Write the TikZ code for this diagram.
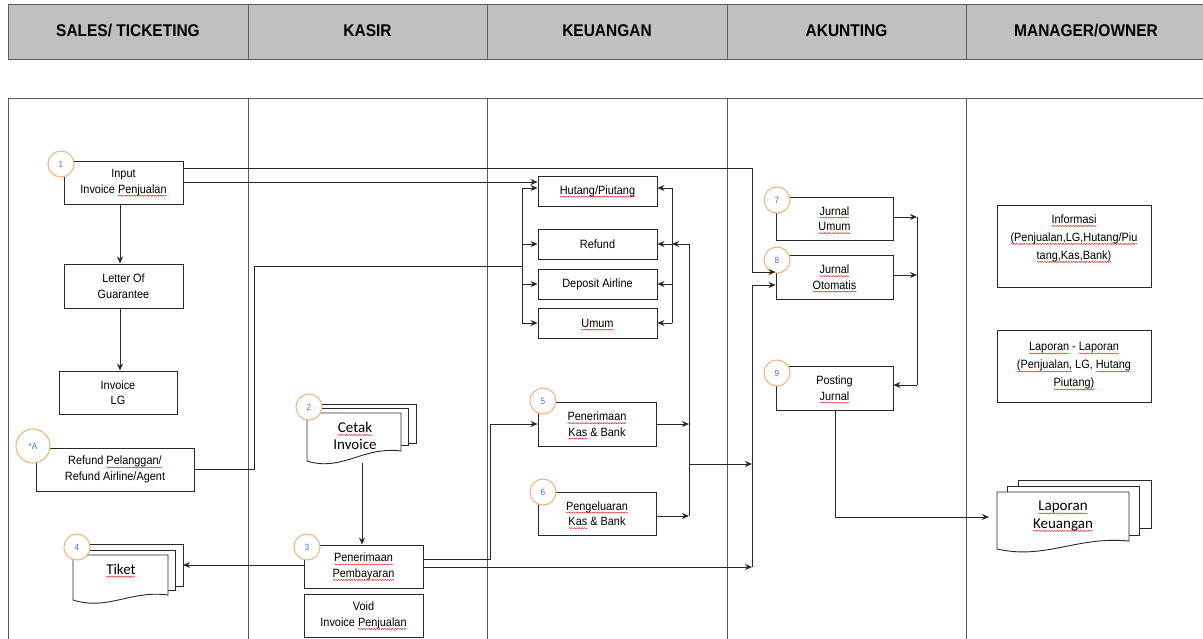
\documentclass[tikz,border=0pt]{standalone}
\usepackage{fontspec}
\setmainfont{Liberation Sans}[FakeStretch=0.91]
\newfontfamily\calfont{Carlito}
\usetikzlibrary{arrows.meta,calc,decorations.pathmorphing}
\newsavebox\sqbox
\newcommand\sq[1]{\leavevmode\sbox\sqbox{#1}\tikz[baseline=0pt]{\useasboundingbox (0pt,0pt);\draw[overlay,red,line width=0.4pt,decorate,decoration={snake,amplitude=0.55pt,segment length=2.6pt}] (0pt,-2.6pt) -- (\the\wd\sqbox,-2.6pt);}\usebox\sqbox}
\definecolor{linec}{RGB}{40,40,40}
\definecolor{orangec}{RGB}{247,180,120}
\definecolor{bluec}{RGB}{68,114,196}
\definecolor{headfill}{RGB}{192,192,192}
\definecolor{hdrline}{RGB}{90,90,90}
\tikzset{
  box/.style={draw=linec, line width=0.9pt, fill=white, align=center, inner sep=1pt,
    font=\fontsize{12}{15.5}\selectfont},
  bigbox/.style={box, font=\fontsize{12}{18}\selectfont},
  num/.style={circle, draw=orangec, line width=1.1pt, fill=white, minimum size=26pt,
    inner sep=0pt, text=bluec, font=\fontsize{9}{10}\selectfont},
  arr/.style={-{Stealth[length=7pt,width=6pt]}, line width=0.9pt, draw=linec},
  ln/.style={line width=0.9pt, draw=linec},
  hdr/.style={font=\fontsize{17}{20}\selectfont\bfseries},
  sheet/.style={draw=linec, line width=0.9pt, fill=white},
  doctext/.style={align=center, inner sep=0pt, font=\calfont\fontsize{15}{17.5}\selectfont},
  lane/.style={draw=hdrline, line width=1pt},
}
\begin{document}
\begin{tikzpicture}[x=1pt,y=-1pt]
\useasboundingbox (0,0) rectangle (1203,638);
% header
\fill[headfill] (8,4) rectangle (1210,59);
\draw[lane] (1210,4) -- (8,4) -- (8,59) -- (1210,59);
\foreach \x in {248,487,727,966} \draw[lane] (\x,4) -- (\x,59);
\node[hdr] (h1) at (128,31) {SALES/ TICKETING};
\node[hdr] (h2) at (367.5,31) {KASIR};
\node[hdr] (h3) at (607,31) {KEUANGAN};
\node[hdr] (h4) at (846.5,31) {AKUNTING};
\node[hdr] (h5) at (1086,31) {MANAGER/OWNER};
% lanes
\draw[lane] (8,645) -- (8,98) -- (1210,98);
\foreach \x in {248,487,727,966} \draw[lane] (\x,98) -- (\x,645);

% ---------- SALES ----------
\node[box, minimum width=119pt, minimum height=43pt] (inp) at (123.5,182.5) {Input\\Invoice \sq{Penjualan}};
\node[box, minimum width=119pt, minimum height=44pt] (log) at (123.5,286) {Letter Of\\Guarantee};
\node[box, minimum width=118pt, minimum height=43pt] (ilg) at (118,392.5) {Invoice\\LG};
\node[box, minimum width=158pt, minimum height=43pt] (rfd) at (115,469.5) {Refund \sq{Pelanggan/}\\Refund Airline/Agent};
% Tiket document stack
\filldraw[sheet] (87,544) rectangle (183,586);
\filldraw[sheet] (80,550) rectangle (175,590);
\filldraw[sheet] (73,555) -- (168,555) -- (168,595) .. controls (130,590) and (108,611) .. (73,600) -- cycle;
\node[doctext] (tiket) at (121,569) {\sq{Tiket}};
\coordinate (tk) at (183,565);

% ---------- KASIR ----------
\filldraw[sheet] (319,404) rectangle (416,443);
\filldraw[sheet] (313,408) rectangle (408,445);
\filldraw[sheet] (307,413) -- (401,413) -- (401,451) .. controls (363,446) and (342,472) .. (307,461) -- cycle;
\node[doctext] (ci) at (355,436) {\sq{Cetak}\\Invoice};
\coordinate (cb) at (362,463);
\node[box, minimum width=119pt, minimum height=43pt] (pp) at (363.5,566.5) {\sq{Penerimaan}\\\sq{Pembayaran}};
\node[box, minimum width=119pt, minimum height=43pt] (void) at (363.5,615.5) {Void\\Invoice \sq{Penjualan}};

% ---------- KEUANGAN ----------
\node[box, minimum width=119pt, minimum height=30pt] (hp) at (597.5,191) {\sq{Hutang/Piutang}};
\node[box, minimum width=119pt, minimum height=30pt] (ref) at (597.5,244) {Refund};
\node[box, minimum width=119pt, minimum height=30pt] (dep) at (597.5,284) {Deposit Airline};
\node[box, minimum width=119pt, minimum height=30pt] (umum) at (597.5,323) {\sq{Umum}};
\node[box, minimum width=118pt, minimum height=44pt] (pkb) at (597,424) {\sq{Penerimaan}\\\sq{Kas} \& Bank};
\node[box, minimum width=118pt, minimum height=43pt] (pgk) at (597,513.5) {\sq{Pengeluaran}\\\sq{Kas} \& Bank};

% ---------- AKUNTING ----------
\node[box, minimum width=117pt, minimum height=43pt] (ju) at (834.5,218.5) {\sq{Jurnal}\\\sq{Umum}};
\node[box, minimum width=117pt, minimum height=44pt] (jo) at (834.5,277) {\sq{Jurnal}\\\sq{Otomatis}};
\node[box, minimum width=117pt, minimum height=44pt] (pj) at (834.5,388) {Posting\\\sq{Jurnal}};

% ---------- MANAGER ----------
\node[bigbox, minimum width=154pt, minimum height=82pt] (info) at (1074,246) {\sq{Informasi}\\\sq{(Penjualan,LG,Hutang/Piu}\\\sq{tang,Kas,Bank)}\\\mbox{}};
\node[bigbox, minimum width=154pt, minimum height=72pt] (lap) at (1074,366) {\sq{Laporan} - \sq{Laporan}\\\sq{(Penjualan,} LG, \sq{Hutang}\\\sq{Piutang)}};
\filldraw[sheet] (1018,480) rectangle (1151,528);
\filldraw[sheet] (1007,486) rectangle (1139,535);
\filldraw[sheet] (997,492) -- (1129,492) -- (1129,541) .. controls (1076,536) and (1046,560) .. (997,549) -- cycle;
\node[doctext] (lk) at (1063,516) {\sq{Laporan}\\\sq{Keuangan}};
\coordinate (lkin) at (989,517);

% ---------- numbered circles ----------
\node[num] (n1) at (61,164) {1};
\node[num, minimum size=34pt] (nA) at (33,446) {*A};
\node[num] (n4) at (77,547) {4};
\node[num] (n2) at (309,407) {2};
\node[num] (n3) at (307,547) {3};
\node[num] (n5) at (543,401) {5};
\node[num] (n6) at (543,492) {6};
\node[num] (n7) at (777,200) {7};
\node[num] (n8) at (777,260) {8};
\node[num] (n9) at (777,373) {9};

% ---------- connectors ----------
\draw[arr] ([xshift=-3.5pt]inp.south) -- ([xshift=-3.5pt]log.north);
\draw[arr] ([xshift=-3.5pt]log.south) -- ([xshift=2pt]ilg.north);
% input -> jurnal otomatis
\coordinate (v1) at (752,168);
\coordinate (v1b) at (752,272);
\draw[arr] ([yshift=14.5pt]inp.east) -- (v1) -- (v1b) -- (v1b -| jo.west);
% input -> hutang/piutang
\draw[arr] ([yshift=0.5pt]inp.east) -- ([yshift=9pt]hp.west);
% refund -> left bus
\coordinate (r1) at (254,469.5);
\coordinate (r2) at (254,266);
\coordinate (lb) at (522,266);
\draw[ln] (rfd.east) -- (r1) -- (r2) -- (lb);
\coordinate (lbt) at (522,188);
\coordinate (lbb) at (522,323);
\draw[ln] (lbt) -- (lbb);
\draw[arr] (lbt) -- (lbt -| hp.west);
\draw[arr] (lbt |- ref.west) -- (ref.west);
\draw[arr] (lbt |- dep.west) -- (dep.west);
\draw[arr] (lbb) -- (lbb -| umum.west);
% right bus
\coordinate (rbt) at (672,188);
\coordinate (rbb) at (672,323);
\draw[ln] (rbt) -- (rbb);
\draw[arr] (rbt) -- (rbt -| hp.east);
\draw[arr] (rbt |- ref.east) -- (ref.east);
\draw[arr] (rbt |- dep.east) -- (dep.east);
\draw[arr] (rbb) -- (rbb -| umum.east);
% kas bus
\coordinate (kt) at (689,244);
\coordinate (kb) at (689,516);
\draw[ln] (kb) -- (kt);
\draw[arr] (kt) -- (kt -| rbt);
\draw[arr] (pkb.east) -- (pkb.east -| kt);
\draw[arr] ([yshift=-2.5pt]pgk.east) -- (kb);
\coordinate (km) at (689,464);
\coordinate (vm) at (752,464);
\draw[arr] (km) -- (vm);
% pembayaran -> penerimaan kas
\coordinate (p1) at (490,559);
\coordinate (p2) at (490,424);
\draw[arr] ([yshift=7.5pt]pp.east) -- (p1) -- (p2) -- (pkb.west);
% pembayaran -> akunting bus
\coordinate (vb) at (752,567);
\coordinate (vt) at (752,285);
\draw[arr] ([yshift=-0.5pt]pp.east) -- (vb);
\draw[arr] (vb) -- (vt) -- (vt -| jo.west);
% pembayaran -> tiket
\draw[arr] ([yshift=1.5pt]pp.west) -- (tk);
% cetak -> pembayaran
\draw[arr] (cb) -- (cb |- pp.north);
% jurnal bus
\coordinate (jb1) at (917,217);
\coordinate (jb2) at (917,275);
\coordinate (jb3) at (917,385);
\draw[ln] (jb1) -- (jb3);
\draw[arr] ([yshift=1.5pt]ju.east) -- (jb1);
\draw[arr] ([yshift=2pt]jo.east) -- (jb2);
\draw[arr] (jb3) -- (jb3 -| pj.east);
% posting -> laporan keuangan
\coordinate (q1) at (835,517);
\draw[arr] ([xshift=0.5pt]pj.south) -- (q1) -- (lkin);
\end{tikzpicture}
\end{document}
